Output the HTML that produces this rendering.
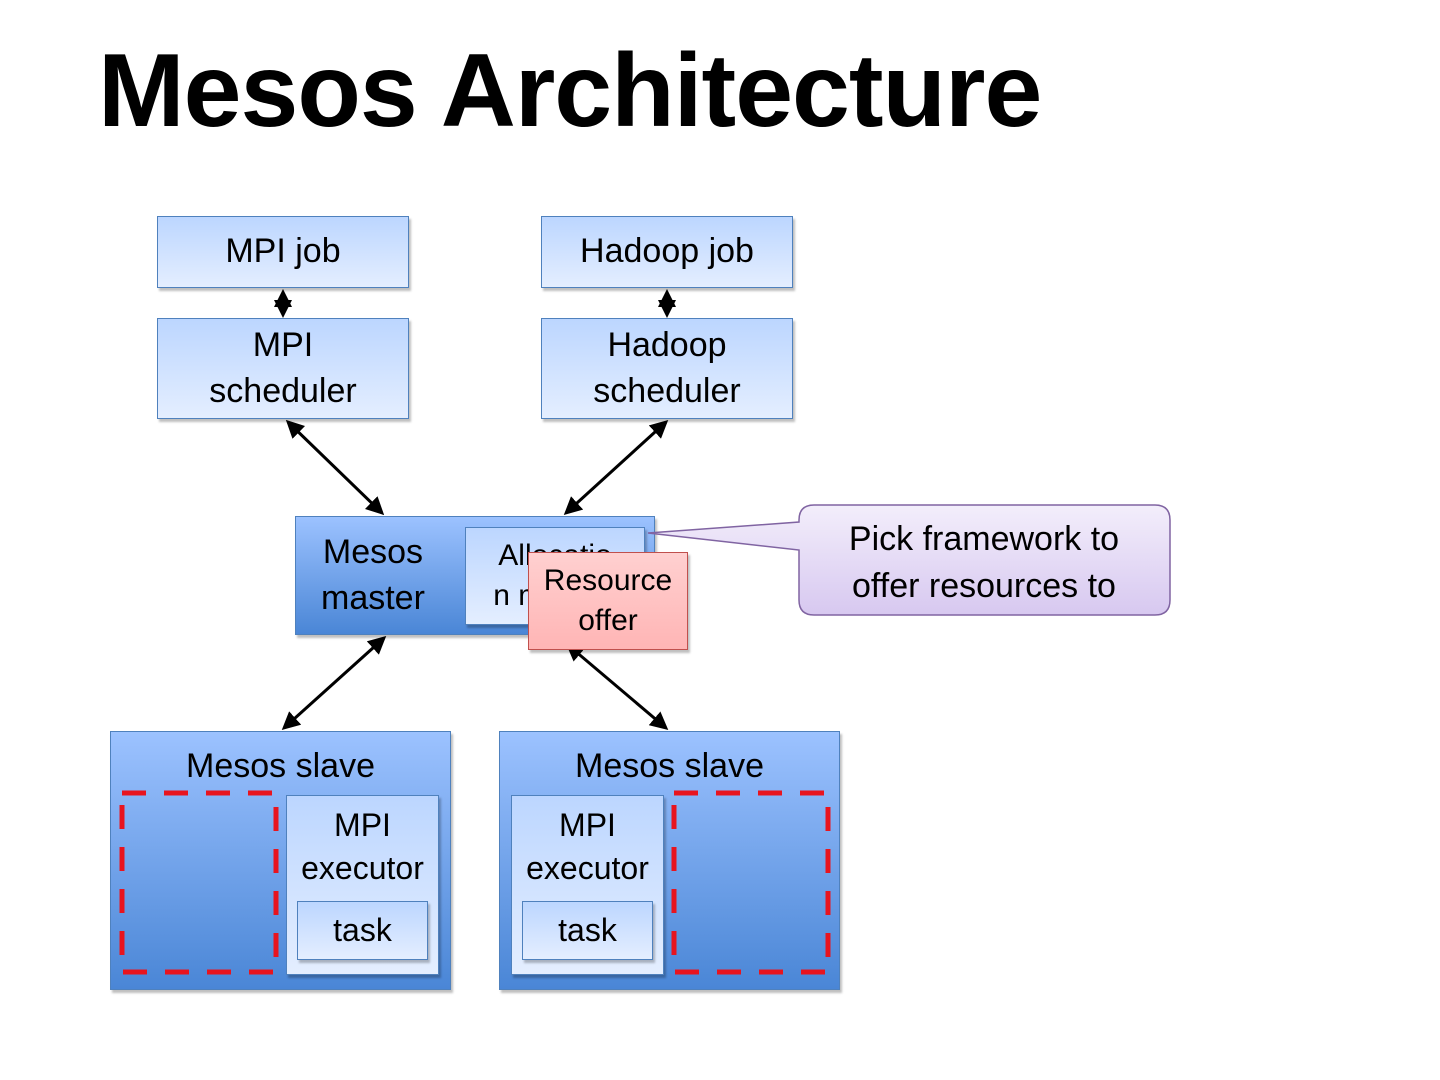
<!DOCTYPE html>
<html><head><style>
body{margin:0;width:1440px;height:1080px;background:#fff;position:relative;overflow:hidden;font-family:"Liberation Sans",sans-serif}
.b{position:absolute;box-sizing:border-box;display:flex;align-items:center;justify-content:center;text-align:center;color:#000;line-height:1.35}
.lt{background:linear-gradient(#bcd6ff,#e4eeff);border:1.5px solid #4f81bd;box-shadow:2px 3px 2px rgba(0,0,0,.25);font-size:34px}
.dk{background:linear-gradient(#9cc2ff,#4a86d6);border:1.5px solid #4f81bd;box-shadow:2px 3px 2px rgba(0,0,0,.25)}
</style></head><body>
<div style="position:absolute;left:98px;top:32px;font-size:104px;font-weight:bold;letter-spacing:-1px">Mesos Architecture</div>
<div class="b lt" style="left:157px;top:216px;width:252px;height:72px">MPI job</div>
<div class="b lt" style="left:541px;top:216px;width:252px;height:72px">Hadoop job</div>
<div class="b lt" style="left:157px;top:318px;width:252px;height:101px">MPI<br>scheduler</div>
<div class="b lt" style="left:541px;top:318px;width:252px;height:101px">Hadoop<br>scheduler</div>
<div class="b dk" style="left:295px;top:516px;width:360px;height:119px;justify-content:flex-start;padding-left:25px;font-size:34px">Mesos<br>master</div>
<div class="b lt" style="left:465px;top:527px;width:180px;height:98px;overflow:hidden;font-size:30px">Allocatio<br>n module</div>
<div class="b dk" style="left:110px;top:731px;width:341px;height:259px;align-items:flex-start;font-size:34px;padding-top:12px">Mesos slave</div>
<div class="b dk" style="left:499px;top:731px;width:341px;height:259px;align-items:flex-start;font-size:34px;padding-top:12px">Mesos slave</div>
<div class="b lt" style="left:286px;top:795px;width:153px;height:180px;align-items:flex-start;font-size:32px;padding-top:8px">MPI<br>executor</div>
<div class="b lt" style="left:297px;top:901px;width:131px;height:59px;font-size:32px">task</div>
<div class="b lt" style="left:511px;top:795px;width:153px;height:180px;align-items:flex-start;font-size:32px;padding-top:8px">MPI<br>executor</div>
<div class="b lt" style="left:522px;top:901px;width:131px;height:59px;font-size:32px">task</div>
<svg width="1440" height="1080" style="position:absolute;left:0;top:0">
<defs><marker id="a" markerWidth="6" markerHeight="6" refX="5" refY="3" orient="auto-start-reverse" markerUnits="strokeWidth"><path d="M0,0L6,3L0,6z" fill="#000"/></marker>
<linearGradient id="p" x1="0" y1="0" x2="0" y2="1"><stop offset="0" stop-color="#f3eefb"/><stop offset="1" stop-color="#d7c8f0"/></linearGradient></defs>
<g stroke="#000" stroke-width="3" marker-start="url(#a)" marker-end="url(#a)">
<line x1="283" y1="292" x2="283" y2="315"/><line x1="667" y1="292" x2="667" y2="315"/>
<line x1="288" y1="422" x2="382" y2="513"/><line x1="666" y1="422" x2="566" y2="513"/>
<line x1="384" y1="638" x2="284" y2="728"/><line x1="568" y1="645" x2="666" y2="728"/>
</g>
<rect x="122" y="793" width="154" height="179" fill="none" stroke="#e8141e" stroke-width="5" stroke-dasharray="24,18"/>
<rect x="674" y="793" width="154" height="179" fill="none" stroke="#e8141e" stroke-width="5" stroke-dasharray="24,18"/>
<path d="M814,505H1155Q1170,505 1170,520V600Q1170,615 1155,615H814Q799,615 799,600V550L648,533L799,522V520Q799,505 814,505z" fill="url(#p)" stroke="#8064a2" stroke-width="1.5"/>
<text x="984" y="550" font-size="34" text-anchor="middle" font-family="Liberation Sans">Pick framework to</text>
<text x="984" y="597" font-size="34" text-anchor="middle" font-family="Liberation Sans">offer resources to</text>
</svg>
<div class="b" style="left:528px;top:552px;width:160px;height:98px;background:linear-gradient(#ffd0d0,#ffb5b5);border:1.5px solid #c0504d;font-size:30px;box-shadow:2px 3px 2px rgba(0,0,0,.25)">Resource<br>offer</div>
</body></html>
